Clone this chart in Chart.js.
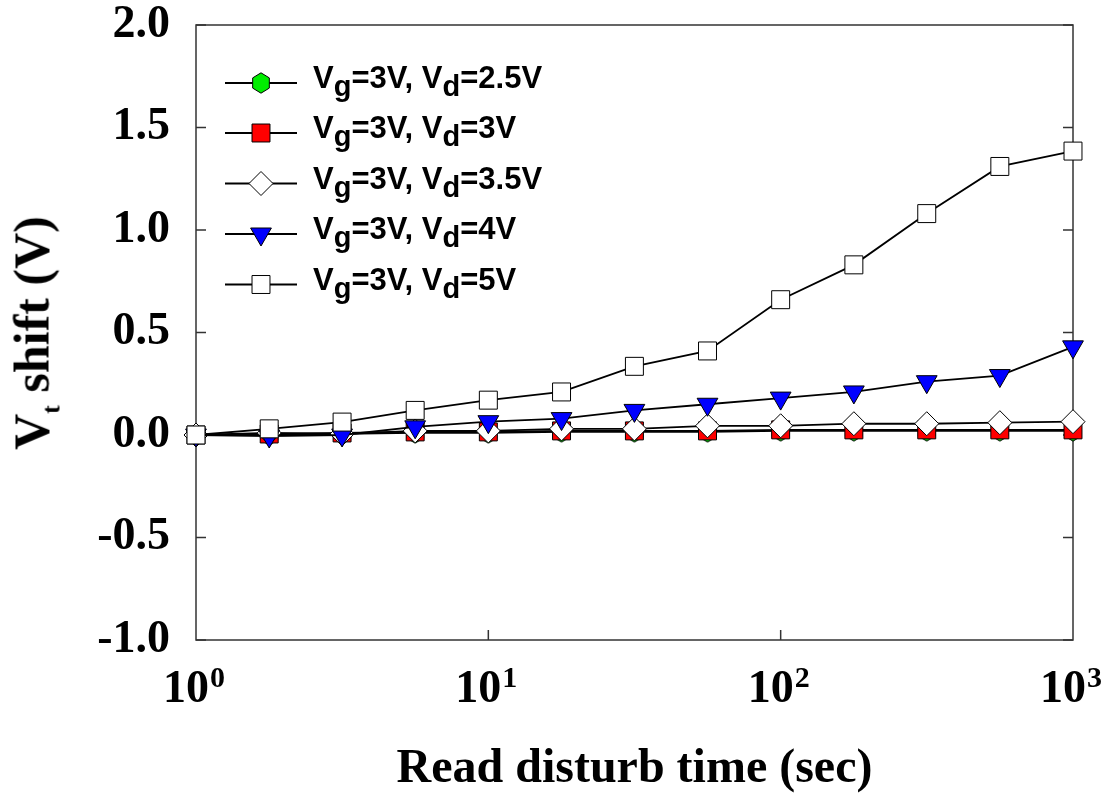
<!DOCTYPE html>
<html>
<head>
<meta charset="utf-8">
<script src="https://cdn.jsdelivr.net/npm/chart.js@4.4.1/dist/chart.umd.min.js"></script>
<style>
html, body { margin: 0; padding: 0; background: #fff; }
#wrap { position: relative; width: 1114px; height: 798px; }
#chart { position: absolute; left: 0; top: 0; }
.legend-row { position: absolute; left: 313px; font: bold 31px "Liberation Sans", Arial, sans-serif; line-height: 31px; white-space: nowrap; color: #000; }
.legend-row .sb { position: relative; top: 8px; font-size: 29px; }
#ytitle { position: absolute; left: 36px; top: 333px; transform: translate(-50%, -50%) rotate(-90deg); font: bold 50px "Liberation Serif", serif; line-height: 50px; white-space: nowrap; color: #000; }
#ytitle .sb { position: relative; top: 11px; font-size: 26px; }
</style>
</head>
<body>
<div id="wrap">
  <canvas id="chart" width="1114" height="798"></canvas>
  <div id="ytitle">V<span class="sb">t</span> shift (V)</div>
  <div id="legend"></div>
</div>
<script>
// read disturb time (sec)
const times = [1, 1.78, 3.16, 5.62, 10, 17.8, 31.6, 56.2, 100, 178, 316, 562, 1000];

// Vt shift (V) per drain voltage, Vg = 3V
const vd25 = [0, 0.0, 0.005, 0.01, 0.01, 0.015, 0.015, 0.015, 0.02, 0.02, 0.02, 0.02, 0.02];
const vd3 = [0, 0.005, 0.01, 0.015, 0.015, 0.02, 0.02, 0.02, 0.025, 0.025, 0.025, 0.025, 0.025];
const vd35 = [0, 0.01, 0.005, 0.02, 0.02, 0.03, 0.03, 0.045, 0.045, 0.055, 0.055, 0.06, 0.065];
const vd4 = [0, -0.005, 0.0, 0.04, 0.065, 0.08, 0.12, 0.15, 0.18, 0.21, 0.26, 0.29, 0.43];
const vd5 = [0, 0.03, 0.063, 0.12, 0.17, 0.21, 0.335, 0.41, 0.66, 0.83, 1.08, 1.31, 1.385];

const drainLabels = ['2.5V', '3V', '3.5V', '4V', '5V'];
const yTicks = [-1, -0.5, 0, 0.5, 1, 1.5, 2];
const xTicks = [1, 10, 100, 1000];

// hexagon marker (no built-in pointStyle for it)
function hexagon(fill) {
    const c = document.createElement('canvas');
    c.width = 22;
    c.height = 24;
    const g = c.getContext('2d');
    g.beginPath();
    for (let i = 0; i < 6; i++) {
        const a = Math.PI / 3 * i - Math.PI / 2;
        const px = 11 + 9.6 * Math.cos(a);
        const py = 12 + 10.2 * Math.sin(a);
        if (i === 0) g.moveTo(px, py); else g.lineTo(px, py);
    }
    g.closePath();
    g.fillStyle = fill;
    g.fill();
    g.lineWidth = 1;
    g.strokeStyle = '#000';
    g.stroke();
    return c;
}

const markers = [
    { pointStyle: hexagon('#00ee00'), radius: 10, rotation: 0, fill: '#00ee00' },
    { pointStyle: 'rect', radius: 12.7, rotation: 0, fill: '#ff0000' },
    { pointStyle: 'rectRot', radius: 12, rotation: 0, fill: '#ffffff' },
    { pointStyle: 'triangle', radius: 12, rotation: 180, fill: '#0000ff' },
    { pointStyle: 'rect', radius: 12.7, rotation: 0, fill: '#ffffff' }
];
const seriesData = [vd25, vd3, vd35, vd4, vd5];

const datasets = seriesData.map((vals, i) => ({
    label: 'Vg=3V, Vd=' + drainLabels[i],
    data: vals.map((v, j) => ({ x: times[j], y: v })),
    borderColor: '#000',
    borderWidth: 1.8,
    backgroundColor: markers[i].fill,
    pointBackgroundColor: markers[i].fill,
    pointBorderColor: '#000',
    pointBorderWidth: 1,
    pointStyle: markers[i].pointStyle,
    pointRadius: markers[i].radius,
    pointRotation: markers[i].rotation,
    tension: 0,
    clip: false,
    order: 5 - i
}));

// legend rows (pixel centres)
const legendRows = [83, 133, 183.5, 234, 284.5];
const legendEl = document.getElementById('legend');
drainLabels.forEach((lab, i) => {
    const d = document.createElement('div');
    d.className = 'legend-row';
    d.style.top = (legendRows[i] - 21) + 'px';
    d.innerHTML = 'V<span class="sb">g</span>=3V, V<span class="sb">d</span>=' + lab;
    legendEl.appendChild(d);
});

const serifStack = '"Liberation Serif", "Times New Roman", serif';
const tickFont = { family: serifStack, size: 46, weight: 'bold' };
const xTickPad = 23;

const framePlugin = {
    id: 'frame',
    beforeDatasetsDraw(chart) {
        const { ctx, chartArea: a, scales } = chart;
        ctx.save();
        ctx.strokeStyle = '#333';
        ctx.lineWidth = 1.5;
        ctx.strokeRect(a.left, a.top, a.right - a.left, a.bottom - a.top);
        ctx.beginPath();
        yTicks.forEach(v => {
            const py = scales.y.getPixelForValue(v);
            ctx.moveTo(a.left, py); ctx.lineTo(a.left + 10, py);
            ctx.moveTo(a.right, py); ctx.lineTo(a.right - 10, py);
        });
        xTicks.slice(1, -1).forEach(v => {
            const px = scales.x.getPixelForValue(v);
            ctx.moveTo(px, a.bottom); ctx.lineTo(px, a.bottom - 10);
        });
        ctx.stroke();
        ctx.restore();
    },
    afterDatasetsDraw(chart) {
        const ctx = chart.ctx;
        ctx.save();
        // legend symbols: line - marker - line
        legendRows.forEach((y, i) => {
            ctx.strokeStyle = '#000';
            ctx.lineWidth = 1.8;
            ctx.beginPath();
            ctx.moveTo(225, y); ctx.lineTo(297, y);
            ctx.stroke();
            ctx.fillStyle = markers[i].fill;
            ctx.lineWidth = 1;
            Chart.helpers.drawPoint(ctx, {
                pointStyle: markers[i].pointStyle,
                radius: markers[i].radius,
                rotation: markers[i].rotation,
                borderWidth: 1
            }, 261, y);
        });
        // exponents of the x tick labels
        const xs = chart.scales.x;
        const mid = xs.top + xTickPad + tickFont.size * 1.2 / 2;
        ctx.fillStyle = '#000';
        ctx.font = 'bold 30px ' + serifStack;
        ctx.textAlign = 'left';
        ctx.textBaseline = 'alphabetic';
        xTicks.forEach(v => {
            const px = xs.getPixelForValue(v);
            ctx.fillText(String(Math.round(Math.log10(v))), px + 14, mid - 4);
        });
        ctx.restore();
    }
};

new Chart(document.getElementById('chart').getContext('2d'), {
    type: 'line',
    data: { datasets: datasets },
    options: {
        responsive: false,
        animation: false,
        events: [],
        layout: { padding: { left: 0, top: 25, right: 41, bottom: 0 } },
        plugins: { legend: { display: false }, tooltip: { enabled: false } },
        scales: {
            x: {
                type: 'logarithmic',
                min: 1,
                max: 1000,
                afterBuildTicks: s => { s.ticks = xTicks.map(v => ({ value: v })); },
                afterFit: s => { s.height = 158; s.paddingLeft = 0; s.paddingRight = 0; },
                grid: { display: false, drawTicks: false },
                border: { display: false },
                ticks: {
                    color: '#000',
                    font: tickFont,
                    padding: xTickPad,
                    labelOffset: -10,
                    maxRotation: 0,
                    autoSkip: false,
                    callback: () => '10'
                },
                title: {
                    display: true,
                    text: 'Read disturb time (sec)',
                    color: '#000',
                    font: { family: serifStack, size: 48, weight: 'bold' },
                    padding: { top: 0, bottom: 0 }
                }
            },
            y: {
                min: -1,
                max: 2,
                afterBuildTicks: s => { s.ticks = yTicks.map(v => ({ value: v })); },
                afterFit: s => { s.width = 196; s.paddingTop = 0; s.paddingBottom = 0; },
                grid: { display: false, drawTicks: false },
                border: { display: false },
                ticks: {
                    color: '#000',
                    font: tickFont,
                    padding: 26,
                    callback: v => v.toFixed(1)
                }
            }
        }
    },
    plugins: [framePlugin]
});
</script>
</body>
</html>
